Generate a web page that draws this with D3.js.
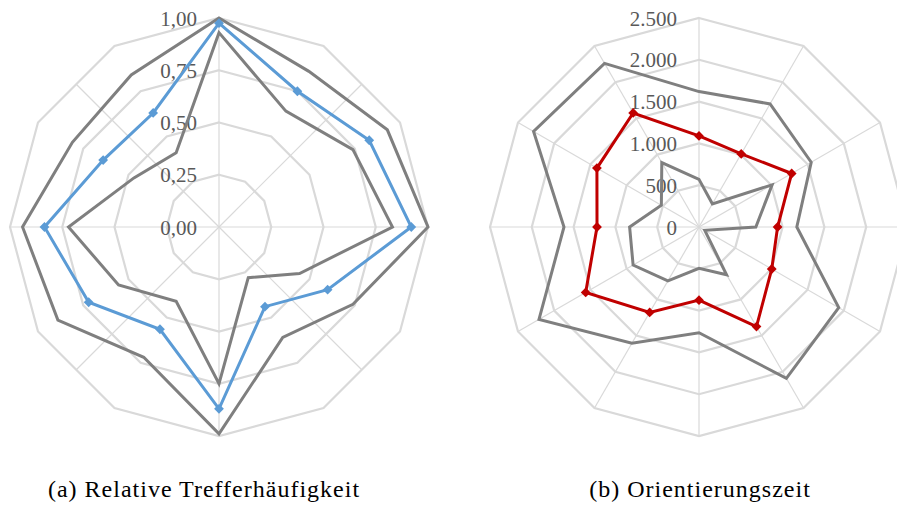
<!DOCTYPE html>
<html>
<head>
<meta charset="utf-8">
<script src="https://cdn.jsdelivr.net/npm/d3@7"></script>
<style>
    body { margin: 0; background: #fff; }
    svg { display: block; }
</style>
</head>
<body>
<div id="chart"></div>
<script>
// 12 categories, clockwise from the top
const categories = ['1', '2', '3', '4', '5', '6', '7', '8', '9', '10', '11', '12'];

// (a) Relative Trefferhäufigkeit
const hitMax  = [1.00, 0.86, 0.93, 1.00, 0.74, 0.61, 0.99, 0.72, 0.89, 0.94, 0.81, 0.84];
const hitMean = [0.975, 0.75, 0.83, 0.92, 0.60, 0.44, 0.87, 0.565, 0.72, 0.835, 0.64, 0.63];
const hitMin  = [0.93, 0.64, 0.74, 0.83, 0.445, 0.28, 0.75, 0.41, 0.555, 0.72, 0.47, 0.41];
const hitTicks = [0, 0.25, 0.5, 0.75, 1];

// (b) Orientierungszeit
const timeMax  = [1620, 1700, 1550, 1170, 1930, 2090, 1265, 1605, 2210, 1615, 2285, 2260];
const timeMean = [1090, 1010, 1280, 940, 1005, 1375, 875, 1180, 1565, 1220, 1410, 1575];
const timeMin  = [570, 320, 1010, 680, 80, 660, 495, 745, 910, 830, 520, 890];
const timeTicks = [0, 500, 1000, 1500, 2000, 2500];

const captions = ['(a) Relative Trefferhäufigkeit', '(b) Orientierungszeit'];

const de = d3.formatLocale({decimal: ',', thousands: '.', grouping: [3], currency: ['', ' €']});

const width = 897;
const height = 507;
const radius = 209;

const svg = d3.select('#chart').append('svg')
    .attr('width', width)
    .attr('height', height);

const angle = (i) => { return i * 2 * Math.PI / categories.length };

const drawRadar = function drawRadar(opts) {
    const r = d3.scaleLinear().domain(opts.domain).range([0, radius]);

    const g = svg.append('g')
        .attr('transform', 'translate(' + opts.cx + ',' + opts.cy + ')');

    const radial = d3.lineRadial()
        .angle((d, i) => { return angle(i) })
        .curve(d3.curveLinearClosed);

    // spokes, ending on the outer ring
    const n = categories.length;
    const edge = (a) => {
        const step = 2 * Math.PI / n;
        const rel = ((a % step) + step) % step - step / 2;
        return radius * Math.cos(step / 2) / Math.cos(rel);
    };
    g.selectAll('.spoke')
        .data(opts.spokes)
        .enter()
    .append('line')
        .attr('class', 'spoke')
        .attr('x1', 0).attr('y1', 0)
        .attr('x2', (d) => { return edge(d) * Math.sin(d) })
        .attr('y2', (d) => { return -edge(d) * Math.cos(d) })
        .style('stroke', '#d9d9d9')
        .style('stroke-width', 1.2);

    // rings
    g.selectAll('.ring')
        .data(opts.ticks.filter((t) => { return t > 0 }))
        .enter()
    .append('path')
        .attr('class', 'ring')
        .attr('d', (t) => { return radial.radius(r(t))(categories) })
        .style('fill', 'none')
        .style('stroke', '#d9d9d9')
        .style('stroke-width', 2.2);

    // tick labels
    g.selectAll('.tick')
        .data(opts.ticks)
        .enter()
    .append('text')
        .attr('class', 'tick')
        .attr('x', -22)
        .attr('y', (t) => { return -r(t) })
        .attr('dy', '0.36em')
        .attr('text-anchor', 'end')
        .style('font', '21px "Liberation Serif", serif')
        .style('fill', '#595959')
        .text(opts.format);

    // series
    opts.series.forEach((s) => {
        g.append('path')
            .attr('d', d3.lineRadial()
                .angle((d, i) => { return angle(i) })
                .radius((d) => { return r(d) })
                .curve(d3.curveLinearClosed)(s.values))
            .style('fill', 'none')
            .style('stroke', s.color)
            .style('stroke-width', 3)
            .style('stroke-linejoin', 'miter');

        if (s.marker) {
            g.selectAll(null)
                .data(s.values)
                .enter()
            .append('path')
                .attr('d', d3.symbol(d3.symbolSquare, 48))
                .attr('transform', (d, i) => {
                    const x = r(d) * Math.sin(angle(i));
                    const y = -r(d) * Math.cos(angle(i));
                    return 'translate(' + x + ',' + y + ') rotate(45)';
                })
                .style('fill', s.color);
        }
    });

    svg.append('text')
        .attr('x', opts.captionX)
        .attr('y', 497)
        .attr('text-anchor', 'middle')
        .style('font', '24px "Liberation Serif", serif')
        .style('letter-spacing', '1px')
        .style('fill', '#000')
        .text(opts.caption);
};

drawRadar({
    cx: 219, cy: 227,
    domain: [0, 1],
    ticks: hitTicks,
    format: de.format('.2f'),
    spokes: d3.range(8).map((i) => { return i * Math.PI / 4 }),
    series: [
        {values: hitMax, color: '#7f7f7f'},
        {values: hitMin, color: '#7f7f7f'},
        {values: hitMean, color: '#5b9bd5', marker: true}
    ],
    caption: captions[0],
    captionX: 204
});

drawRadar({
    cx: 699, cy: 227,
    domain: [0, 2500],
    ticks: timeTicks,
    format: de.format(',d'),
    spokes: categories.map((c, i) => { return angle(i) }),
    series: [
        {values: timeMax, color: '#7f7f7f'},
        {values: timeMin, color: '#7f7f7f'},
        {values: timeMean, color: '#c00000', marker: true}
    ],
    caption: captions[1],
    captionX: 700
});
</script>
</body>
</html>
